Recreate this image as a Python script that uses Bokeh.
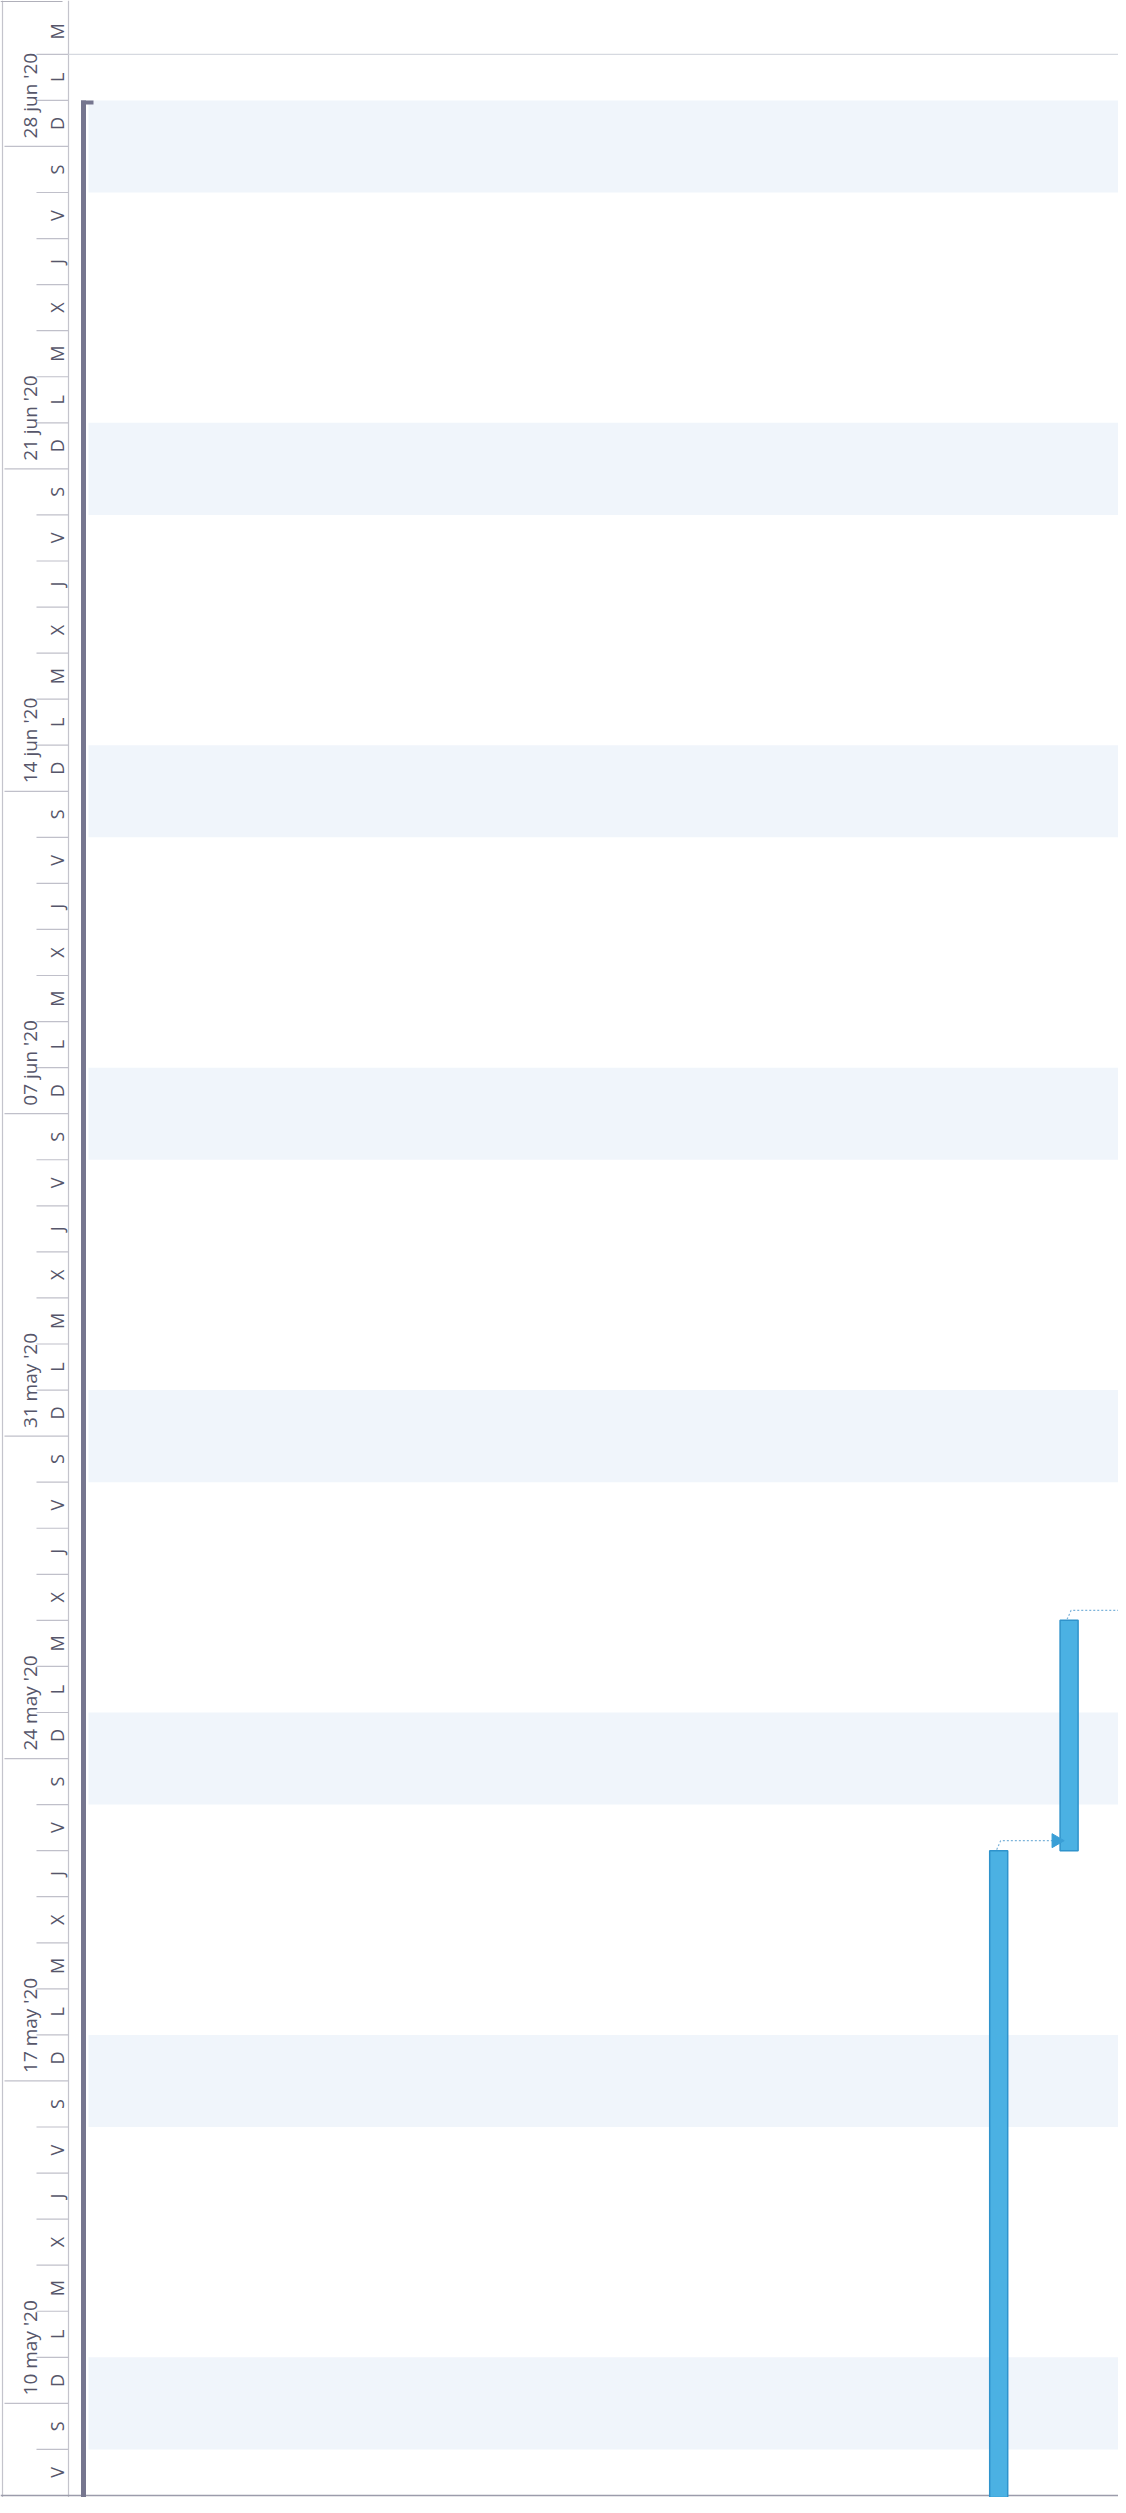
import numpy as np
import pandas as pd
from bokeh.plotting import figure
from bokeh.models import Range1d, ColumnDataSource
from bokeh.core.properties import value
from bokeh.embed import file_html
from bokeh.resources import INLINE

# ---------------- data ----------------
view_first_day = "2020-05-08"          # first day shown (bottom)
view_last_day = "2020-06-30"           # last day shown (top)
day_letters = ["L", "M", "X", "J", "V", "S", "D"]   # lunes .. domingo
week_starts = ["2020-05-10", "2020-05-17", "2020-05-24", "2020-05-31",
               "2020-06-07", "2020-06-14", "2020-06-21", "2020-06-28"]
week_labels = ["10 may '20", "17 may '20", "24 may '20", "31 may '20",
               "07 jun '20", "14 jun '20", "21 jun '20", "28 jun '20"]

summary_row = 0
summary_start = "2020-04-20"
summary_finish = "2020-06-29"          # end of 28 jun

task_rows = [13, 14]
task_start = ["2020-04-27", "2020-05-22"]
task_finish = ["2020-05-22", "2020-05-27"]
task_links = [(0, 1)]                  # finish-to-start link
open_link_from = [1]                   # link leaving the page

# ---------------- layout helpers ----------------
W, H = 1118, 2497
PPD = 46.06                            # pixels per day
DAY = 86400000.0
def ms(s):
    return pd.Timestamp(s).value / 1e6
def px(n):
    return n * DAY / PPD

t0 = ms(view_first_day)
y_start = t0 - px(2)
y_end = y_start + px(H)
t_last_end = ms(view_last_day) + DAY

ROW0, PITCH = 91.0, 70.4
def col(r):
    return ROW0 + r * PITCH

HDR_L, HDR_R = 10, 76
CH_L, CH_R = 96, 1130

p = figure(width=W, height=H, output_backend="svg", toolbar_location=None,
           x_range=Range1d(8, 8 + W), y_range=Range1d(y_start, y_end),
           y_axis_type="datetime", min_border=0, outline_line_color=None,
           background_fill_color="white", border_fill_color="white")
p.axis.visible = False
p.grid.visible = False

days = pd.date_range(pd.Timestamp(view_first_day) - pd.Timedelta(days=2),
                     pd.Timestamp(view_last_day), freq="D")

# weekend shading (Saturday + Sunday)
sats = [d for d in days if d.dayofweek == 5]
p.quad(left=CH_L, right=CH_R,
       bottom=[ms(d) for d in sats],
       top=[ms(d + pd.Timedelta(days=2)) for d in sats],
       fill_color="#f0f5fb", line_color=None)

# header frame lines
p.segment(x0=[HDR_L, HDR_R], x1=[HDR_L, HDR_R], y0=[y_start, y_start],
          y1=[y_end, y_end], line_color="#c4c4cc", line_width=1.2)

# day boundary ticks in header
vis_days = [d for d in days if t0 <= ms(d) <= t_last_end]
tick_x0 = [12 if d.dayofweek == 6 else 44 for d in vis_days]
p.segment(x0=tick_x0, x1=[HDR_R] * len(vis_days),
          y0=[ms(d) for d in vis_days], y1=[ms(d) for d in vis_days],
          line_color="#c0c0ca", line_width=1.2)

# day letters
lab_days = [d for d in days if ms(d) >= t0 - 1]
p.text(x=[64] * len(lab_days),
       y=[ms(d) + DAY / 2 for d in lab_days],
       text=[day_letters[d.dayofweek] for d in lab_days],
       angle=np.pi / 2, text_align="center", text_baseline="middle",
       text_font=value("Open Sans"), text_font_size="18px",
       text_color="#56566a")

# week labels
p.text(x=[37] * len(week_starts),
       y=[ms(s) + px(8) for s in week_starts],
       text=week_labels, angle=np.pi / 2, text_align="left",
       text_baseline="middle", text_font=value("Open Sans"),
       text_font_size="19px", text_color="#56566a")

# top / bottom border lines
p.segment(x0=[8, HDR_R], x1=[HDR_L + 60, CH_R],
          y0=[y_end - px(1), ms("2020-06-30")],
          y1=[y_end - px(1), ms("2020-06-30")],
          line_color=["#b0b0ba", "#d6d9e0"], line_width=1.2)
p.segment(x0=[8], x1=[CH_R], y0=[t0], y1=[t0],
          line_color="#9c9cab", line_width=1.5)

# summary bar
sx = col(summary_row)
p.quad(left=sx - 2.5, right=sx + 2.5, bottom=ms(summary_start),
       top=ms(summary_finish), fill_color="#76768f", line_color=None)
p.quad(left=sx - 2.5, right=sx + 10, bottom=ms(summary_finish) - px(4),
       top=ms(summary_finish), fill_color="#76768f", line_color=None)

# task bars
src = ColumnDataSource(dict(
    x=[col(r) for r in task_rows],
    b=[ms(s) for s in task_start],
    t=[ms(f) for f in task_finish]))
p.vbar(x="x", width=18, bottom="b", top="t", source=src,
       fill_color="#4bb1e3", line_color="#2f93cc", line_width=1.5)

# links
for a, b in task_links:
    xa, xb = col(task_rows[a]), col(task_rows[b])
    ya = ms(task_finish[a])
    yl = ya + px(10)
    p.line(x=[xa - 2, xa + 2, xb - 16], y=[ya + px(1), yl, yl],
           line_color="#7db4da", line_width=1.2, line_dash="2 2")
    p.scatter(x=[xb - 13], y=[yl], marker="triangle", size=14,
              angle=-np.pi / 2, fill_color="#3a9fd6", line_color="#3a9fd6")
for a in open_link_from:
    xa = col(task_rows[a])
    ya = ms(task_finish[a])
    yl = ya + px(10)
    p.line(x=[xa - 2, xa + 2, CH_R], y=[ya + px(1), yl, yl],
           line_color="#7db4da", line_width=1.2, line_dash="2 2")

open("out.html", "w").write(file_html(p, INLINE))
